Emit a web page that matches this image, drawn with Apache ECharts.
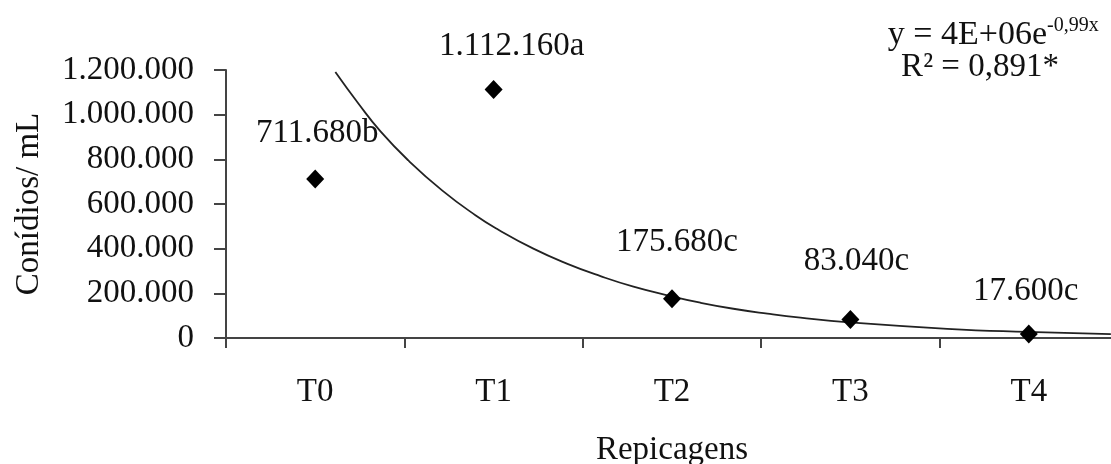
<!DOCTYPE html>
<html>
<head>
<meta charset="utf-8">
<script src="https://cdn.jsdelivr.net/npm/echarts@6/dist/echarts.min.js"></script>
<style>
html,body{margin:0;padding:0;background:#fff;}
#c{width:1111px;height:464px;}
</style>
</head>
<body>
<div id="c"></div>
<script>
// ---- data ----
var categories = ['T0', 'T1', 'T2', 'T3', 'T4'];
var conidios = [711680, 1112160, 175680, 83040, 17600];
var letters = ['b', 'a', 'c', 'c', 'c'];
// trendline: [category position, value]
var trendX = [0.113, 0.242, 0.366, 0.522, 0.713, 0.898, 1.027, 1.223, 1.414, 1.599, 1.784, 1.991, 2.159, 2.344, 2.535, 2.72, 2.993, 3.543, 3.99, 4.46];
var trendY = [1191000, 1050000, 925000, 795000, 660000, 550000, 485000, 400000, 332000, 277000, 230000, 188000, 158000, 131000, 109000, 91000, 70000, 41000, 27000, 17000];
var yTicks = [0, 200000, 400000, 600000, 800000, 1000000, 1200000];
var equationLine1 = 'y = 4E+06e';
var equationSup = '-0,99x';
var equationLine2 = 'R² = 0,891*';

// label placement (style, not data)
var labelShift = [[2, -20], [18, -17], [5, -30], [6, -32], [-3, -17]];

function fmt(v) {
  return String(Math.round(v)).replace(/\B(?=(\d{3})+(?!\d))/g, '.');
}

var FONT = '"Liberation Serif", "Times New Roman", serif';
var TXT = '#111';
var FS = 33;

var chart = echarts.init(document.getElementById('c'));
var scatterData = conidios.map(function (v, i) {
  return {
    value: v,
    label: { offset: labelShift[i] }
  };
});
var trendData = trendX.map(function (x, i) { return [x, trendY[i]]; });

chart.setOption({
  animation: false,
  backgroundColor: '#fff',
  grid: { left: 226, right: -7, top: 70, bottom: 126, containLabel: false, outerBoundsMode: 'none' },
  xAxis: [{
    type: 'category',
    data: categories,
    boundaryGap: true,
    name: 'Repicagens',
    nameLocation: 'middle',
    nameGap: 96,
    nameTextStyle: { fontFamily: FONT, fontSize: FS, color: TXT },
    axisLine: { onZero: false, lineStyle: { color: '#444', width: 2 } },
    axisTick: { show: true, length: 10, lineStyle: { color: '#444', width: 2 } },
    axisLabel: { fontFamily: FONT, fontSize: FS, color: TXT, margin: 38 },
    splitLine: { show: false }
  }, {
    type: 'value',
    min: -0.5,
    max: 4.5,
    show: false
  }],
  yAxis: {
    type: 'value',
    min: yTicks[0],
    max: yTicks[yTicks.length - 1],
    interval: yTicks[1] - yTicks[0],
    name: 'Conídios/ mL',
    nameLocation: 'middle',
    nameGap: 180,
    nameRotate: 90,
    nameTextStyle: { fontFamily: FONT, fontSize: FS, color: TXT },
    axisLine: { show: true, onZero: false, lineStyle: { color: '#444', width: 2 } },
    axisTick: { show: true, length: 12, lineStyle: { color: '#444', width: 2 } },
    axisLabel: { fontFamily: FONT, fontSize: FS, color: TXT, margin: 32, formatter: fmt },
    splitLine: { show: false }
  },
  series: [{
    type: 'line',
    xAxisIndex: 1,
    data: trendData,
    smooth: true,
    symbol: 'none',
    lineStyle: { color: '#222', width: 1.8 },
    z: 1
  }, {
    type: 'scatter',
    xAxisIndex: 0,
    data: scatterData,
    symbol: 'diamond',
    symbolSize: [18, 19],
    itemStyle: { color: '#000', opacity: 1 },
    label: {
      show: true,
      position: 'top',
      distance: 0,
      fontFamily: FONT,
      fontSize: FS,
      color: TXT,
      opacity: 1,
      formatter: function (p) { return fmt(p.value) + letters[p.dataIndex]; }
    },
    emphasis: { disabled: true },
    z: 3
  }],
  graphic: [{
    type: 'text',
    style: { text: equationLine1, x: 1047, y: 35, font: '34px ' + FONT, fill: TXT,
      textAlign: 'right', textVerticalAlign: 'middle', align: 'right', verticalAlign: 'middle' }
  }, {
    type: 'text',
    style: { text: equationSup, x: 1047, y: 26, font: '20px ' + FONT, fill: TXT,
      textAlign: 'left', textVerticalAlign: 'middle', align: 'left', verticalAlign: 'middle' }
  }, {
    type: 'text',
    style: { text: equationLine2, x: 980, y: 67, font: FS + 'px ' + FONT, fill: TXT,
      textAlign: 'center', textVerticalAlign: 'middle', align: 'center', verticalAlign: 'middle' }
  }]
});
</script>
</body>
</html>
